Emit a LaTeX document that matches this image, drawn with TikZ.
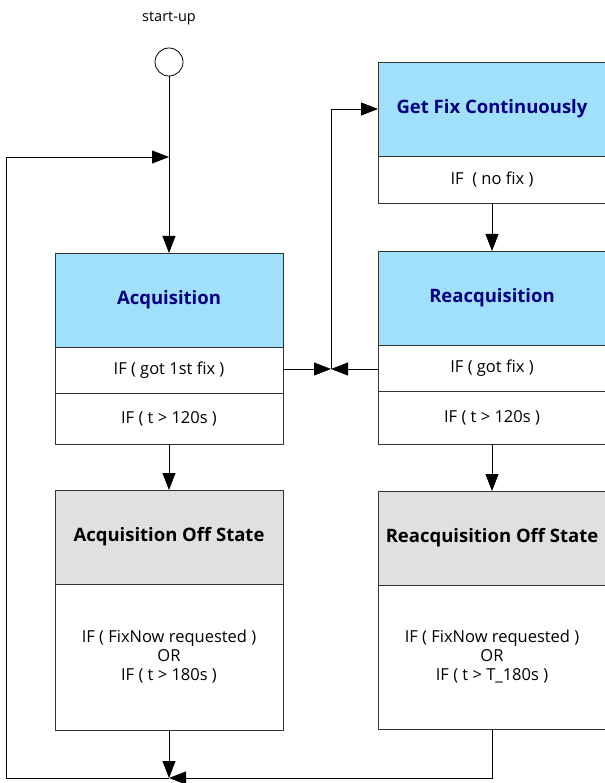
\documentclass[tikz,border=0pt]{standalone}
\usepackage{fontspec}
\setmainfont{Open Sans}
\usetikzlibrary{positioning,arrows.meta}
\definecolor{hdrBlue}{RGB}{160,224,250}
\definecolor{hdrGray}{RGB}{224,224,224}
\definecolor{txtNavy}{RGB}{0,0,128}

\tikzset{
  cell/.style={draw=black!80, line width=0.8pt, minimum width=228pt,
    inner sep=0pt, outer sep=0pt, align=center,
    font=\fontsize{16.5}{19}\selectfont},
  activehdr/.style={cell, fill=hdrBlue, minimum height=94pt,
    text=txtNavy, font=\fontsize{18.5}{22}\selectfont\bfseries},
  offhdr/.style={cell, fill=hdrGray, minimum height=94pt,
    font=\fontsize{18.5}{22}\selectfont\bfseries},
  cond/.style={cell, fill=white, minimum height=46pt},
  arr/.style={line width=0.8pt, -{Triangle[length=17pt,width=13pt]}},
  startnode/.style={circle, draw, line width=0.8pt, minimum size=28pt, inner sep=0pt},
}

\begin{document}
\begin{tikzpicture}[x=1pt, y=-1pt]

  \useasboundingbox (0,0) rectangle (604,783);

  % Start
  \node[startnode] (start) at (169,62) {};
  \node[font=\fontsize{14.5}{17}\selectfont] (startlbl) at (169,18) {start-up};

  % Acquisition column
  \node[activehdr, anchor=north west] (acq) at (55,253) {Acquisition};
  \node[cond, below=0pt of acq] (acqfix) {IF ( got 1st fix )};
  \node[cond, below=0pt of acqfix, minimum height=51pt] (acqtime) {IF ( t > 120s )};

  \node[offhdr, anchor=north west] (acqoff) at (55,490) {Acquisition Off State};
  \node[cond, below=0pt of acqoff, minimum height=146pt] (acqoffcond)
    {IF ( FixNow requested )\\OR\\IF ( t > 180s )};

  % Reacquisition column
  \node[activehdr, anchor=north west] (getfix) at (378,62) {Get Fix Continuously};
  \node[cond, below=0pt of getfix, minimum height=47pt] (getfixcond) {IF \ ( no fix )};

  \node[activehdr, anchor=north west] (reacq) at (378,251) {Reacquisition};
  \node[cond, below=0pt of reacq] (reacqfix) {IF ( got fix )};
  \node[cond, below=0pt of reacqfix, minimum height=53pt] (reacqtime) {IF ( t > 120s )};

  \node[offhdr, anchor=north west] (reacqoff) at (378,491) {Reacquisition Off State};
  \node[cond, below=0pt of reacqoff, minimum height=144pt] (reacqoffcond)
    {IF ( FixNow requested )\\OR\\IF ( t > T\_180s )};

  % Junctions
  \coordinate (loopin) at (169,157);
  \coordinate (fixjoin) at (331,369);
  \coordinate (merge) at (169,778);

  % Connectors
  \draw[arr] (start) -- (acq);
  \draw[arr] (acqtime) -- (acqoff);
  \draw[arr] (getfixcond.south -| reacq.north) -- (reacq);
  \draw[arr] (reacqtime) -- (reacqoff);

  \draw[arr] (acqfix.east |- fixjoin) -- (fixjoin);
  \draw[arr] (reacqfix.west |- fixjoin) -- (fixjoin);
  \draw[arr] (fixjoin) |- (getfix.west);

  \draw[arr] (acqoffcond) -- (merge);
  \draw[arr] (reacqoffcond.south) |- (merge);
  \draw[arr] (merge) -- ++(-163,0) |- (loopin);

\end{tikzpicture}
\end{document}
